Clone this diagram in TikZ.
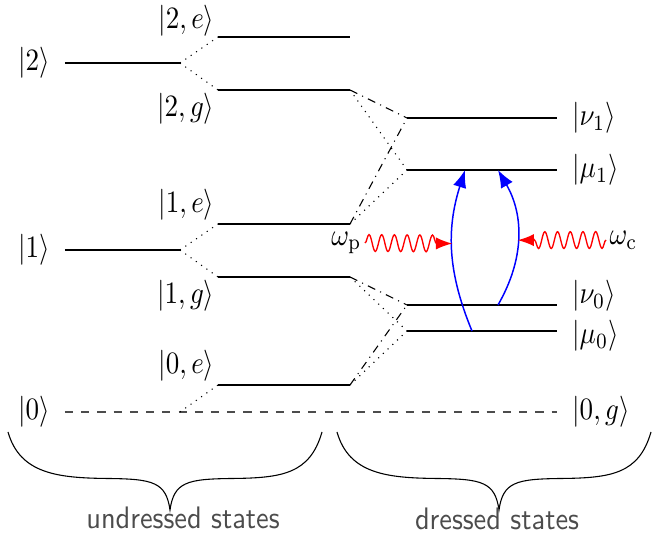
\documentclass[tikz,border=0pt]{standalone}
\usepackage{amsmath}
\usepackage{graphicx}
\usetikzlibrary{calc, arrows.meta, decorations.pathmorphing}

% tall labels, as in the drawing
\newcommand{\lab}[1]{\scalebox{1}[1.15]{$#1$}}

\begin{document}
\begin{tikzpicture}[x=0.013cm, y=-0.013cm, semithick,
    level/.style={line width=0.6pt},
    split/.style={thin, dotted},
    mix/.style={thin, dash dot},
    pump/.style={red, line width=0.5pt, -{Latex[length=6pt,width=4.5pt]},
      decorate, decoration={snake, amplitude=3.1pt, segment length=4.7pt, post length=5pt}},
    trans/.style={blue, line width=0.55pt, -{Latex[length=6.5pt,width=5pt]}},
    grouptext/.style={font=\sffamily, text=black!70},
    groupbrace/.pic={
      \draw[thin] (0,0) .. controls (12,42) and (50,46) .. (100,46.5)
        .. controls (145,47) and (158,50) .. (162,78)
        .. controls (166,50) and (179,47) .. (224,46.5)
        .. controls (274,46) and (302,42) .. (314,0);
    }]
  \useasboundingbox (0,0) rectangle (652,533);
  % bare atom levels
  \coordinate (A2) at (65,63);  \coordinate (B2) at (180,63);
  \coordinate (A1) at (65,250); \coordinate (B1) at (180,250);
  \coordinate (A0) at (65,412); \coordinate (B0) at (180,412);
  % atom + cavity: e and g branches
  \coordinate (E2) at (218,37);  \coordinate (F2) at (350,37);
  \coordinate (G2) at (218,90);  \coordinate (H2) at (350,90);
  \coordinate (E1) at (218,224); \coordinate (F1) at (350,224);
  \coordinate (G1) at (218,277); \coordinate (H1) at (350,277);
  \coordinate (E0) at (218,385); \coordinate (F0) at (350,385);
  % dressed levels
  \coordinate (N1) at (407,118); \coordinate (N1r) at (557,118);
  \coordinate (M1) at (407,170); \coordinate (M1r) at (557,170);
  \coordinate (N0) at (407,305); \coordinate (N0r) at (557,305);
  \coordinate (M0) at (407,331); \coordinate (M0r) at (557,331);
  \coordinate (Z) at (557,412);
  \draw[level] (A2) -- (B2);
  \draw[level] (A1) -- (B1);
  \foreach \n in {2,1,0} \draw[level] (E\n) -- (F\n);
  \foreach \n in {2,1} \draw[level] (G\n) -- (H\n);
  \draw[level] (N1) -- (N1r);
  \draw[level] (M1) -- (M1r);
  \draw[level] (N0) -- (N0r);
  \draw[level] (M0) -- (M0r);
  \draw[thin, dashed, black!70] (A0) -- (Z);
  % splitting into e and g
  \draw[split] (B2) -- (E2);
  \draw[split] (B2) -- (G2);
  \draw[split] (B1) -- (E1);
  \draw[split] (B1) -- (G1);
  \draw[split] (B0) -- (E0);
  % mixing into dressed states
  \draw[mix] (H2) -- (N1);  \draw[split] (H2) -- (M1);
  \draw[mix] (F1) -- (N1);  \draw[split] (F1) -- (M1);
  \draw[mix] (H1) -- (N0);  \draw[split] (H1) -- (M0);
  \draw[mix] (F0) -- (N0);  \draw[split] (F0) -- (M0);
  % labels
  \node[left=2pt]   at (A2) {\lab{|2\rangle}};
  \node[left=2pt]   at (A1) {\lab{|1\rangle}};
  \node[left=2pt]   at (A0) {\lab{|0\rangle}};
  \node[above left, inner xsep=1pt, inner ysep=0pt] at (E2) {\lab{|2,e\rangle}};
  \node[below left, inner sep=1pt] at (G2) {\lab{|2,g\rangle}};
  \node[above left, inner sep=1pt] at (E1) {\lab{|1,e\rangle}};
  \node[below left, inner sep=1pt] at (G1) {\lab{|1,g\rangle}};
  \node[above left, inner sep=1pt] at (E0) {\lab{|0,e\rangle}};
  \node[right=2pt] at (N1r) {\lab{|\nu_1\rangle}};
  \node[right=2pt] at (M1r) {\lab{|\mu_1\rangle}};
  \node[right=2pt, yshift=3.3pt]  at (N0r) {\lab{|\nu_0\rangle}};
  \node[right=2pt, yshift=-1.8pt] at (M0r) {\lab{|\mu_0\rangle}};
  \node[right=2pt] at (Z)   {\lab{|0,g\rangle}};
  % transitions
  \coordinate (P0) at (472,331); \coordinate (P1) at (465,170);
  \coordinate (Q0) at (498,305); \coordinate (Q1) at (498,170);
  \draw[trans] (P0) to[bend left=20] coordinate[pos=0.55] (Tp) (P1);
  \draw[trans] (Q0) to[bend right=30] coordinate[pos=0.48] (Tc) (Q1);
  \node[left, inner sep=1pt]  (wp) at (365,243) {\lab{\omega_{\mathrm{p}}}};
  \node[right, inner sep=1pt] (wc) at (606,240) {\lab{\omega_{\mathrm{c}}}};
  \draw[pump] (wp.east) -- (Tp);
  \draw[pump] (wc.west) -- (Tc);
  % groups
  \pic at (8,432) {groupbrace};
  \pic at (337,432) {groupbrace};
  \node[grouptext] (und) at (183,518) {\scalebox{1.05}[1.15]{undressed states}};
  \node[grouptext] (dre) at (497,519) {\scalebox{1.05}[1.15]{dressed states}};
\end{tikzpicture}
\end{document}
